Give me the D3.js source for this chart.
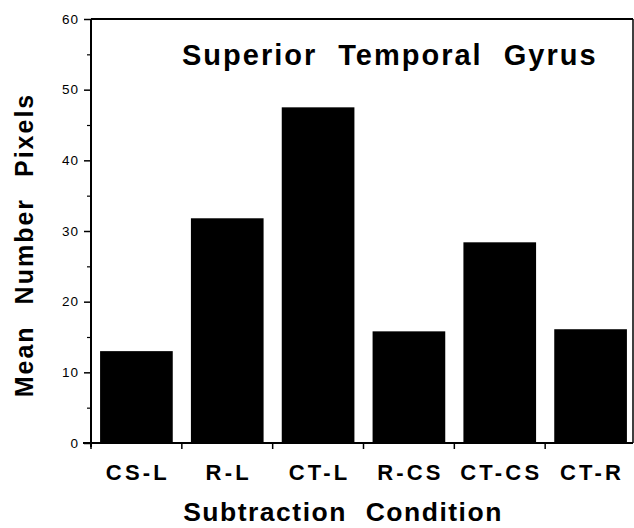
<!DOCTYPE html>
<html>
<head>
<meta charset="utf-8">
<script src="https://cdn.jsdelivr.net/npm/d3@7"></script>
<style>
  body { margin: 0; background: #fff; }
  text { font-family: "Liberation Sans", Arial, Helvetica, sans-serif; fill: #000; }
</style>
</head>
<body>
<div id="chart"></div>
<script>
// bar chart data
const conditions = ["CS-L", "R-L", "CT-L", "R-CS", "CT-CS", "CT-R"];
const meanPixels = [13.0, 31.8, 47.5, 15.8, 28.4, 16.1];
const yTicks = [0, 10, 20, 30, 40, 50, 60];
const yMinorTicks = [5, 15, 25, 35, 45, 55];

const width = 634, height = 528;
const plotLeft = 91, plotRight = 636, plotTop = 19, plotBottom = 443;

const svg = d3.select("#chart").append("svg")
  .attr("width", width)
  .attr("height", height);

const x = d3.scaleBand()
  .domain(conditions)
  .range([plotLeft, plotRight])
  .paddingInner(0.2)
  .paddingOuter(0.1);

const y = d3.scaleLinear()
  .domain([0, 60])
  .range([plotBottom, plotTop]);

// bars
svg.selectAll("rect.bar")
  .data(conditions)
  .enter()
  .append("rect")
  .attr("class", "bar")
  .attr("x", d => x(d))
  .attr("width", x.bandwidth())
  .attr("y", (d, i) => y(meanPixels[i]))
  .attr("height", (d, i) => plotBottom - y(meanPixels[i]))
  .attr("fill", "#000");

// frame: top and right edges
svg.append("line")
  .attr("x1", plotLeft).attr("x2", 633)
  .attr("y1", plotTop).attr("y2", plotTop)
  .attr("stroke", "#000").attr("stroke-width", 2);
svg.append("line")
  .attr("x1", 633).attr("x2", 633)
  .attr("y1", plotTop).attr("y2", plotBottom)
  .attr("stroke", "#000").attr("stroke-width", 1.5);

// y axis
const yAxis = svg.append("g")
  .attr("transform", "translate(" + plotLeft + ",0)")
  .call(d3.axisLeft(y).tickValues(yTicks).tickSize(7).tickPadding(6));
yAxis.select(".domain").attr("stroke-width", 2).attr("d", "M0," + (plotBottom + 4) + "V" + plotTop);
yAxis.selectAll(".tick line").attr("stroke-width", 1.5);
yAxis.selectAll(".tick text")
  .style("font-size", "13.5px")
  .style("letter-spacing", "1px")
  .attr("dx", "1px");

svg.append("g")
  .attr("transform", "translate(" + plotLeft + ",0)")
  .call(d3.axisLeft(y).tickValues(yMinorTicks).tickSize(4).tickFormat(""))
  .call(g => g.select(".domain").remove())
  .selectAll(".tick line").attr("stroke-width", 1.2);

// x axis: ticks at the category boundaries
const bounds = conditions.map(d => x(d) - x.step() * x.paddingInner() / 2);
const xAxis = svg.append("g")
  .attr("transform", "translate(0," + plotBottom + ")");
xAxis.append("line")
  .attr("x1", plotLeft - 8).attr("x2", 633)
  .attr("stroke", "#000").attr("stroke-width", 2);
xAxis.selectAll("line.tk")
  .data(bounds)
  .enter()
  .append("line")
  .attr("class", "tk")
  .attr("x1", d => d).attr("x2", d => d)
  .attr("y1", 0).attr("y2", 6)
  .attr("stroke", "#000").attr("stroke-width", 1.5);

svg.selectAll("text.cat")
  .data(conditions)
  .enter()
  .append("text")
  .attr("class", "cat")
  .attr("x", d => x(d) + x.bandwidth() / 2 + 1.5)
  .attr("y", 480)
  .attr("text-anchor", "middle")
  .style("font-size", "22px")
  .style("font-weight", "bold")
  .style("letter-spacing", "3.2px")
  .text(d => d);

// title
svg.append("text")
  .attr("x", 182)
  .attr("y", 65)
  .style("font-size", "29px")
  .style("font-weight", "bold")
  .style("letter-spacing", "2px")
  .style("word-spacing", "11px")
  .text("Superior Temporal Gyrus");

// axis titles
svg.append("text")
  .attr("transform", "translate(33,245) rotate(-90)")
  .attr("text-anchor", "middle")
  .style("font-size", "25px")
  .style("font-weight", "bold")
  .style("letter-spacing", "2px")
  .style("word-spacing", "12px")
  .text("Mean Number Pixels");

svg.append("text")
  .attr("x", 343)
  .attr("y", 521)
  .attr("text-anchor", "middle")
  .style("font-size", "26.5px")
  .style("font-weight", "bold")
  .style("letter-spacing", "1.5px")
  .style("word-spacing", "10px")
  .text("Subtraction Condition");
</script>
</body>
</html>
